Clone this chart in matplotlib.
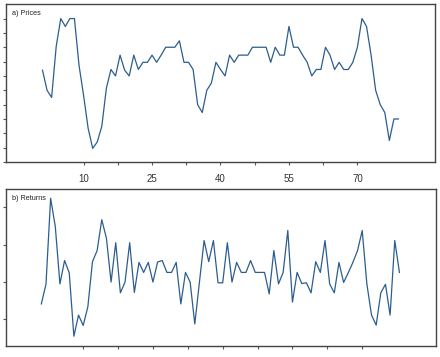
import numpy as np
import matplotlib
matplotlib.use("Agg")
import matplotlib.pyplot as plt

plt.rcParams['font.family'] = ['Liberation Sans', 'DejaVu Sans']

#prices, one value per step starting at 1
prices = [12.8, 10.0, 9.0, 16.1, 20.0, 18.9, 20.0, 20.0, 13.5, 9.3,
          4.7, 1.9, 2.8, 5.0, 10.3, 12.9, 12.0, 14.9, 12.8, 12.0,
          14.9, 12.9, 13.9, 13.9, 14.9, 13.9, 14.9, 16.0, 16.0, 16.0,
          16.9, 13.9, 13.9, 12.9, 8.0, 6.9, 10.0, 11.0, 13.9, 12.9,
          12.0, 14.9, 13.9, 14.9, 14.9, 14.9, 16.0, 16.0, 16.0, 16.0,
          13.9, 16.0, 14.9, 14.9, 18.9, 16.0, 16.0, 14.9, 13.9, 12.0,
          12.9, 12.9, 16.0, 14.9, 12.9, 13.9, 12.9, 12.9, 13.9, 16.0,
          20.0, 18.9, 14.9, 10.0, 8.0, 6.9, 3.0, 6.0, 6.0]

#returns, one less than prices
returns = [-6.0, -0.7, 22.5, 14.9, -0.6, 5.7, 2.4, -14.7, -9.0, -11.8,
           -6.8, 5.4, 8.4, 16.7, 11.7, -0.1, 10.5, -3.0, -0.1, 10.5,
           -2.9, 5.2, 2.5, 5.2, -0.1, 5.3, 5.7, 2.5, 2.5, 5.2,
           -6.0, 2.5, -0.1, -11.4, -0.1, 11.1, 5.4, 11.1, -0.3, -0.3,
           10.5, -0.1, 5.2, 2.5, 2.5, 5.7, 2.5, 2.5, 2.5, -3.3,
           8.4, -0.6, 2.5, 13.8, -5.5, 2.5, -0.5, -0.3, -3.0, 5.4,
           2.5, 11.1, -0.6, -3.0, 5.2, -0.2, 2.4, 5.2, 8.4, 13.8,
           -0.6, -9.0, -11.7, -3.0, -0.7, -9.0, 11.1, 2.5]

panelTitles = ['a) Prices', 'b) Returns']
majorTicks = [10, 25, 40, 55, 70]
minorTicks = [17.5, 32.5, 47.5, 62.5]

lineColor = '#2c5d8f'
spineColor = '#444444'


def designAxes(ax, title):
    for spine in ax.spines.values():
        spine.set_color(spineColor)
        spine.set_linewidth(1.0)
    ax.set_xticks(majorTicks)
    ax.set_xticks(minorTicks, minor=True)
    ax.tick_params(which='both', direction='out', length=2.5, width=0.8,
                   color='#555555', labelsize=7, labelcolor='#333333', pad=6)
    ax.tick_params(axis='y', labelleft=False)
    ax.text(0.0133, 0.94, title, transform=ax.transAxes, fontsize=5.2,
            va='center', ha='left', color='#222222')


fig = plt.figure(figsize=(4.4, 3.57), dpi=100)
fig.patch.set_facecolor('white')

#a) prices
ax1 = fig.add_axes([0.0136, 0.5462, 0.975, 0.442])
ax1.plot(np.arange(1, len(prices) + 1), prices, color=lineColor, lw=0.9)
ax1.set_xlim(-7, 87)
ax1.set_ylim(0, 22)
ax1.set_yticks(np.arange(0, 21, 2))
designAxes(ax1, panelTitles[0])

#b) returns - x labels fall below the picture, so only the ticks show
ax2 = fig.add_axes([0.0136, 0.0317, 0.9766, 0.438])
ax2.plot(np.arange(1, len(returns) + 1), returns, color=lineColor, lw=0.9)
ax2.set_xlim(-6.6, 85.8)
ax2.set_ylim(-17.25, 24.9)
ax2.set_yticks([-10, 0, 10, 20])
designAxes(ax2, panelTitles[1])
ax2.tick_params(axis='x', labelbottom=False)

fig.savefig('out.png', dpi=100)
